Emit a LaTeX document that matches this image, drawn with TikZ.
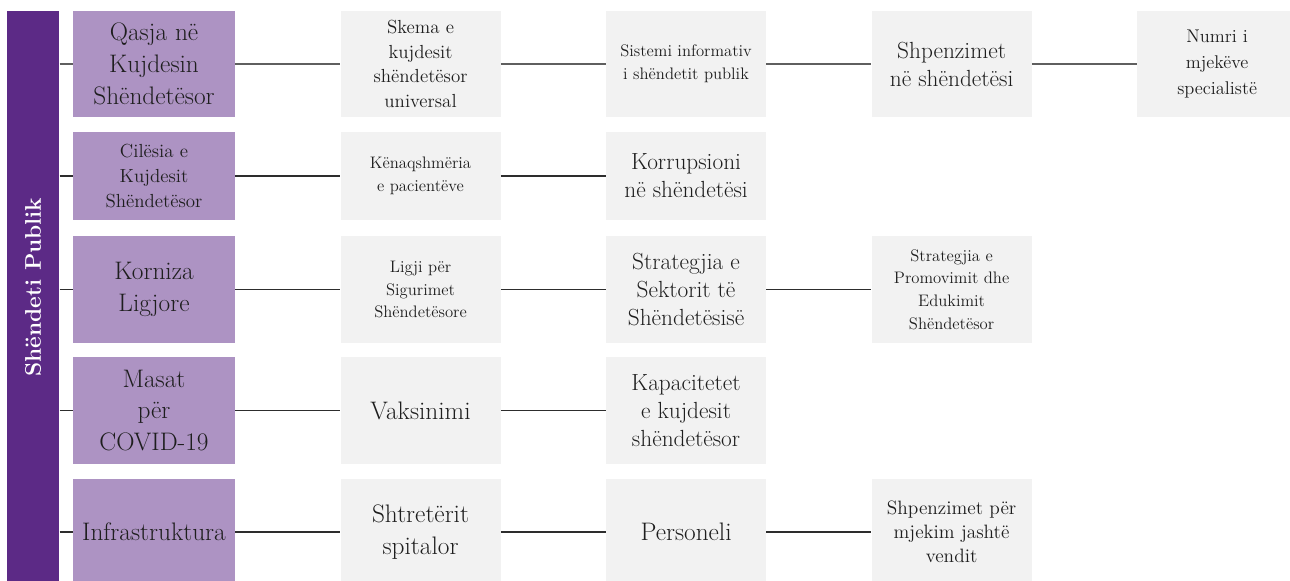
\documentclass[tikz,border=0pt]{standalone}
\usepackage{xcolor}
\usepackage{tikz}
\usetikzlibrary{positioning}
\definecolor{shpurple}{RGB}{92,42,134}
\definecolor{shlilac}{RGB}{173,147,195}
\definecolor{shgray}{RGB}{242,242,242}
\definecolor{shtext}{RGB}{30,30,30}
\definecolor{shline}{RGB}{45,45,45}
\definecolor{shlinelt}{RGB}{95,95,95}

\begin{document}
\begin{tikzpicture}[x=0.75pt,y=0.75pt,
  hd/.style={rectangle,fill=shlilac,text=shtext,align=center,minimum width=121.5pt,inner sep=1pt},
  bx/.style={rectangle,fill=shgray,text=shtext,align=center,minimum width=120pt,inner sep=1pt},
  ln/.style={draw=shline,line width=1.2pt},
  fa/.style={font=\fontsize{19}{23.8}\selectfont},
  fb/.style={font=\fontsize{17.5}{21}\selectfont},
  fc/.style={font=\fontsize{14.2}{18.5}\selectfont},
  fd/.style={font=\fontsize{12.5}{17}\selectfont},
  fe/.style={font=\fontsize{13.8}{19.5}\selectfont},
  ff/.style={font=\fontsize{14.5}{18}\selectfont},
  ra/.style={minimum height=79.5pt},
  rb/.style={minimum height=66pt},
  rc/.style={minimum height=80.25pt},
  node distance=78.75pt
]
\useasboundingbox (0,0) rectangle (1290,581);
% left bar
\node[fill=shpurple,minimum width=39pt,minimum height=434pt,inner sep=0pt,anchor=north west] (bar) at (7,570) {};
\node[rotate=90,text=white,font=\fontsize{17}{20}\selectfont\bfseries] (ttl) at (33,294) {Shëndeti Publik};

% row 1
\node[hd,ra,fa] (h1) at (154,517) {Qasja në\\Kujdesin\\Shëndetësor};
\node[bx,ra,fc,right=of h1] (b12) {Skema e\\kujdesit\\shëndetësor\\universal};
\node[bx,ra,fd,right=of b12] (b13) {Sistemi informativ\\i shëndetit publik};
\node[bx,ra,fb,right=of b13] (b14) {Shpenzimet\\në shëndetësi};
\node[bx,ra,fe,right=of b14] (b15) {Numri i\\mjekëve\\specialistë};

% row 2
\node[hd,rb,fc] (h2) at (154,405) {Cilësia e\\Kujdesit\\Shëndetësor};
\node[bx,rb,fd,right=of h2] (b22) {Kënaqshmëria\\e pacientëve};
\node[bx,rb,fb,right=of b22] (b23) {Korrupsioni\\në shëndetësi};

% row 3
\node[hd,rc,fa] (h3) at (154,291.5) {Korniza\\Ligjore};
\node[bx,rc,fd,right=of h3] (b32) {Ligji për\\Sigurimet\\Shëndetësore};
\node[bx,rc,fb,right=of b32] (b33) {Strategjia e\\Sektorit të\\Shëndetësisë};
\node[bx,rc,fd,right=of b33] (b34) {Strategjia e\\Promovimit dhe\\Edukimit\\Shëndetësor};

% row 4
\node[hd,rc,fa] (h4) at (154,170.5) {Masat\\për\\COVID-19};
\node[bx,rc,fa,right=of h4] (b42) {Vaksinimi};
\node[bx,rc,fb,right=of b42] (b43) {Kapacitetet\\e kujdesit\\shëndetësor};

% row 5
\node[hd,ra,fa] (h5) at (154,49) {Infrastruktura};
\node[bx,ra,fa,right=of h5] (b52) {Shtretërit\\spitalor};
\node[bx,ra,fa,right=of b52] (b53) {Personeli};
\node[bx,ra,ff,right=of b53] (b54) {Shpenzimet për\\mjekim jashtë\\vendit};

% connectors
\draw[ln,draw=shlinelt] (h1.west -| bar.east) -- (h1.west);
\draw[ln,draw=shlinelt] (h1) -- (b12); \draw[ln,draw=shlinelt] (b12) -- (b13);
\draw[ln,draw=shlinelt] (b13) -- (b14); \draw[ln,draw=shlinelt] (b14) -- (b15);
\draw[ln] (h2.west -| bar.east) -- (h2.west);
\draw[ln] (h2) -- (b22); \draw[ln] (b22) -- (b23);
\draw[ln] (h3.west -| bar.east) -- (h3.west);
\draw[ln] (h3) -- (b32); \draw[ln] (b32) -- (b33); \draw[ln] (b33) -- (b34);
\draw[ln] (h4.west -| bar.east) -- (h4.west);
\draw[ln] (h4) -- (b42); \draw[ln] (b42) -- (b43);
\draw[ln] (h5.west -| bar.east) -- (h5.west);
\draw[ln] (h5) -- (b52); \draw[ln] (b52) -- (b53); \draw[ln] (b53) -- (b54);
\end{tikzpicture}
\end{document}
